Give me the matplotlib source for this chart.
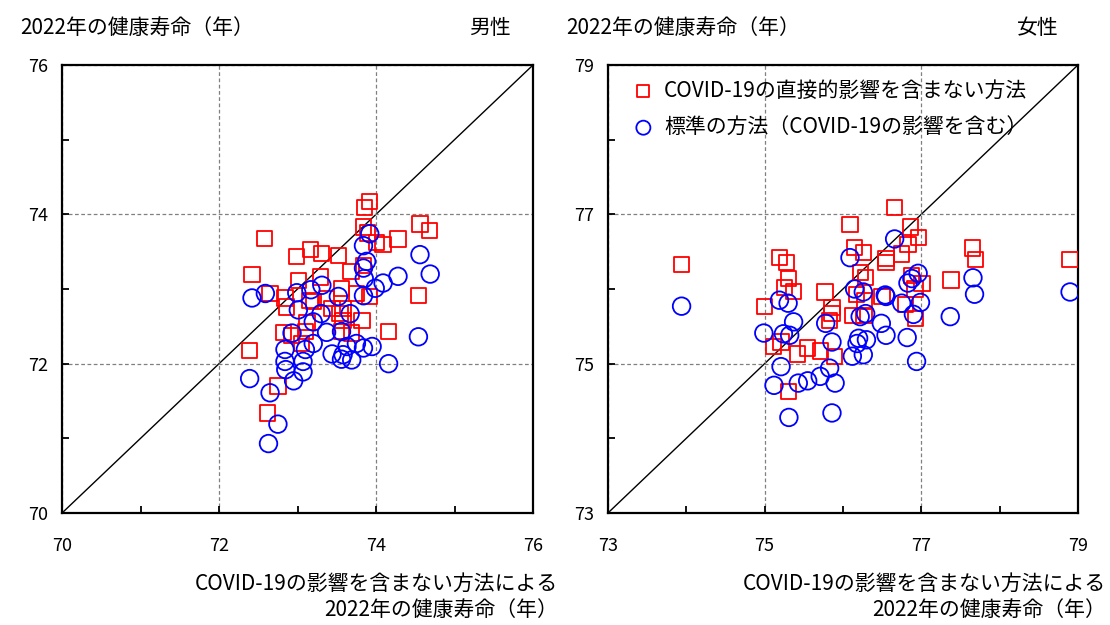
import numpy as np
import matplotlib
matplotlib.use("Agg")
import matplotlib.pyplot as plt
from matplotlib.ticker import MultipleLocator

plt.rcParams["font.family"] = ["Noto Sans CJK JP", "DejaVu Sans"]

# ------------------------------------------------------------ data
# 男性: x = COVID-19の影響を含まない方法, y = 2022年の健康寿命
male_direct_x = [73.92, 73.85, 73.84, 74.56, 74.68, 72.58, 73.89, 74.01, 74.09, 74.28,
                 72.99, 73.17, 73.31, 73.52, 73.84, 73.68, 72.42, 73.01, 73.29, 73.56,
                 73.75, 72.65, 72.84, 73.16, 73.37, 74.54, 73.92, 72.86, 73.20, 73.44,
                 73.58, 73.54, 73.12, 73.58, 73.82, 74.16, 72.82, 72.92, 73.10, 73.56,
                 73.69, 73.05, 72.39, 72.75, 72.62]
male_direct_y = [74.17, 74.09, 73.83, 73.87, 73.78, 73.68, 73.75, 73.62, 73.60, 73.67,
                 73.44, 73.53, 73.48, 73.45, 73.31, 73.23, 73.19, 73.11, 73.16, 73.01,
                 72.94, 72.94, 72.88, 72.85, 72.87, 72.91, 72.90, 72.76, 72.83, 72.74,
                 72.74, 72.67, 72.55, 72.58, 72.58, 72.43, 72.42, 72.38, 72.43, 72.43,
                 72.41, 72.27, 72.18, 71.70, 71.34]
male_std_x = [73.92, 73.84, 74.56, 73.88, 73.84, 74.69, 74.28, 73.85, 74.09, 73.99,
              73.31, 73.17, 72.99, 72.59, 72.42, 73.52, 73.84, 73.01, 73.30, 73.20,
              73.67, 72.93, 73.37, 73.56, 74.54, 73.20, 72.84, 73.10, 73.63, 73.75,
              73.84, 73.95, 73.44, 73.58, 73.56, 73.69, 72.84, 73.07, 74.16, 72.85,
              73.07, 72.39, 72.95, 72.65, 72.75, 72.63]
male_std_y = [73.74, 73.58, 73.46, 73.37, 73.28, 73.20, 73.17, 73.14, 73.08, 73.01,
              73.05, 72.99, 72.95, 72.94, 72.88, 72.90, 72.91, 72.72, 72.67, 72.56,
              72.67, 72.41, 72.42, 72.43, 72.36, 72.27, 72.19, 72.19, 72.23, 72.27,
              72.21, 72.23, 72.13, 72.12, 72.06, 72.05, 72.03, 72.03, 72.00, 71.92,
              71.89, 71.80, 71.77, 71.61, 71.19, 70.93]

# 女性
female_direct_x = [73.94, 76.66, 76.09, 76.86, 76.96, 76.83, 76.15, 76.26, 76.75, 76.55,
                   75.19, 75.28, 76.22, 76.29, 75.31, 75.25, 75.37, 76.88, 77.01, 76.92,
                   77.38, 75.77, 76.17, 76.28, 76.50, 75.00, 75.86, 76.80, 75.86, 75.83,
                   76.12, 76.27, 76.93, 75.11, 75.21, 75.42, 75.55, 75.71, 75.89, 75.31,
                   77.65, 77.69, 78.90, 76.55]
female_direct_y = [76.33, 77.09, 76.86, 76.83, 76.69, 76.60, 76.56, 76.49, 76.47, 76.41,
                   76.42, 76.35, 76.22, 76.15, 76.14, 76.02, 75.97, 76.18, 76.07, 76.00,
                   76.12, 75.96, 75.93, 75.84, 75.90, 75.77, 75.75, 75.79, 75.67, 75.58,
                   75.64, 75.64, 75.61, 75.23, 75.29, 75.13, 75.21, 75.17, 75.10, 74.63,
                   76.55, 76.39, 76.39, 76.35]
female_std_x = [73.94, 76.66, 76.09, 76.96, 76.88, 76.83, 76.15, 76.26, 76.54, 76.55,
                75.19, 75.30, 76.75, 76.99, 77.37, 75.37, 75.78, 76.22, 76.29, 76.90,
                74.99, 75.24, 75.32, 75.86, 76.20, 76.18, 76.30, 76.55, 76.82, 76.12,
                76.26, 76.94, 75.21, 75.83, 75.71, 75.55, 75.43, 75.90, 75.12, 75.31,
                75.86, 77.66, 77.68, 78.90, 76.49]
female_std_y = [75.77, 76.67, 76.42, 76.21, 76.14, 76.08, 76.00, 75.96, 75.92, 75.90,
                75.85, 75.81, 75.81, 75.82, 75.63, 75.56, 75.54, 75.63, 75.67, 75.66,
                75.41, 75.40, 75.38, 75.29, 75.34, 75.27, 75.32, 75.38, 75.35, 75.10,
                75.12, 75.03, 74.96, 74.94, 74.83, 74.77, 74.74, 74.74, 74.71, 74.28,
                74.34, 76.15, 75.93, 75.96, 75.54]

male_range = (70, 76)
female_range = (73, 79)

ylabel = "2022年の健康寿命（年）"
xlabel = "COVID-19の影響を含まない方法による\n2022年の健康寿命（年）"
label_direct = "COVID-19の直接的影響を含まない方法"
label_std = "標準の方法（COVID-19の影響を含む）"

RED = "#ff0000"
BLUE = "#0000ff"


def panel(ax, rng, dx, dy, sx, sy):
    lo, hi = rng
    ax.plot([lo, hi], [lo, hi], color="black", lw=1.0, zorder=1)
    ax.scatter(dx, dy, marker="s", s=120, facecolors="none", edgecolors=RED,
               linewidths=1.3, zorder=3, label=label_direct)
    ax.scatter(sx, sy, marker="o", s=160, facecolors="none", edgecolors=BLUE,
               linewidths=1.3, zorder=4, label=label_std)
    ax.set_xlim(lo, hi); ax.set_ylim(lo, hi)
    ticks = np.arange(lo, hi + 1, 2)
    ax.set_xticks(ticks); ax.set_yticks(ticks)
    ax.xaxis.set_minor_locator(MultipleLocator(1)); ax.yaxis.set_minor_locator(MultipleLocator(1))
    ax.tick_params(which="both", direction="in", length=5, width=1.3, labelsize=13)
    ax.tick_params(axis="x", which="both", pad=17)
    ax.tick_params(axis="y", which="both", pad=10)
    ax.grid(True, which="major", ls=(0, (3, 2)), color="#808080", lw=0.9)
    for s in ax.spines.values():
        s.set_linewidth(1.6)


fig = plt.figure(figsize=(11.1, 6.25), dpi=100)
ax1 = fig.add_axes([0.0559, 0.1792, 0.4243, 0.7168])
ax2 = fig.add_axes([0.5477, 0.1792, 0.4234, 0.7168])

panel(ax1, male_range, male_direct_x, male_direct_y, male_std_x, male_std_y)
panel(ax2, female_range, female_direct_x, female_direct_y, female_std_x, female_std_y)

ax2.legend(loc="upper left", bbox_to_anchor=(0.0, 1.0), frameon=False, fontsize=15,
           handletextpad=0.0, labelspacing=0.7, markerscale=0.8, borderaxespad=0.3)

fs = 15
fig.text(20 / 1110, 1 - 28 / 625, ylabel, fontsize=fs, ha="left", va="center")
fig.text(566 / 1110, 1 - 28 / 625, ylabel, fontsize=fs, ha="left", va="center")
fig.text(511 / 1110, 1 - 28 / 625, "男性", fontsize=fs, ha="right", va="center")
fig.text(1059 / 1110, 1 - 28 / 625, "女性", fontsize=fs, ha="right", va="center")
fig.text(558 / 1110, 1 - 597 / 625, xlabel, fontsize=fs, ha="right", va="center", linespacing=1.25)
fig.text(1106 / 1110, 1 - 597 / 625, xlabel, fontsize=fs, ha="right", va="center", linespacing=1.25)

fig.savefig("out.png", dpi=100)
